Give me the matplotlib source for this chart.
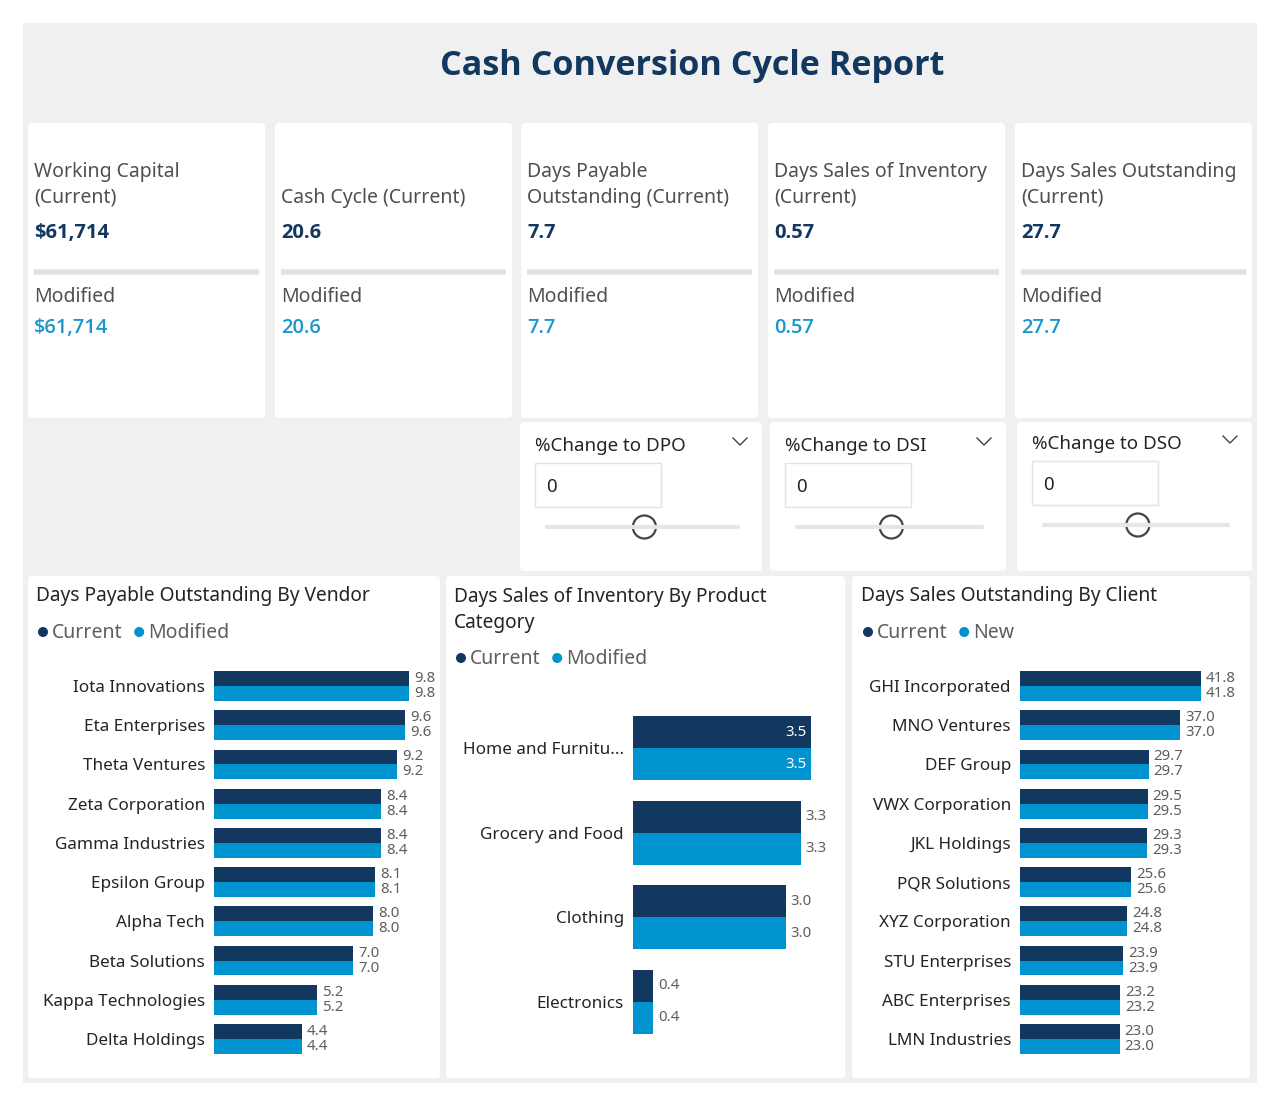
import matplotlib
matplotlib.use("Agg")
import matplotlib.pyplot as plt
from matplotlib.patches import FancyBboxPatch, Rectangle, Circle
import numpy as np

plt.rcParams['font.family'] = ['Noto Sans', 'DejaVu Sans']
BOLD = ['Open Sans', 'Noto Sans', 'DejaVu Sans']

# ---- data ----
card_titles = ["Working Capital\n(Current)", "Cash Cycle (Current)",
               "Days Payable\nOutstanding (Current)", "Days Sales of Inventory\n(Current)",
               "Days Sales Outstanding\n(Current)"]
card_current = ["$61,714", "20.6", "7.7", "0.57", "27.7"]
card_modified = ["$61,714", "20.6", "7.7", "0.57", "27.7"]

slicer_titles = ["%Change to DPO", "%Change to DSI", "%Change to DSO"]
slicer_values = [0, 0, 0]

vendors = ["Iota Innovations", "Eta Enterprises", "Theta Ventures", "Zeta Corporation",
           "Gamma Industries", "Epsilon Group", "Alpha Tech", "Beta Solutions",
           "Kappa Technologies", "Delta Holdings"]
dpo_current = [9.8, 9.6, 9.2, 8.4, 8.4, 8.1, 8.0, 7.0, 5.2, 4.4]
dpo_modified = [9.8, 9.6, 9.2, 8.4, 8.4, 8.1, 8.0, 7.0, 5.2, 4.4]

categories = ["Home and Furnitu...", "Grocery and Food", "Clothing", "Electronics"]
dsi_current = [3.5, 3.3, 3.0, 0.4]
dsi_modified = [3.5, 3.3, 3.0, 0.4]

clients = ["GHI Incorporated", "MNO Ventures", "DEF Group", "VWX Corporation",
           "JKL Holdings", "PQR Solutions", "XYZ Corporation", "STU Enterprises",
           "ABC Enterprises", "LMN Industries"]
dso_current = [41.8, 37.0, 29.7, 29.5, 29.3, 25.6, 24.8, 23.9, 23.2, 23.0]
dso_new = [41.8, 37.0, 29.7, 29.5, 29.3, 25.6, 24.8, 23.9, 23.2, 23.0]

NAVY = "#12385F"
BLUE = "#0093CF"
TXT = "#252423"
GREY = "#605E5C"

W, H = 1280, 1106
fig = plt.figure(figsize=(W / 100, H / 100), dpi=100)
fig.patch.set_facecolor("white")

bg = fig.add_axes([0, 0, 1, 1])
bg.set_xlim(0, W)
bg.set_ylim(H, 0)
bg.axis("off")


def box(x0, y0, x1, y1, fc="white", ec="none", lw=0, r=4):
    p = FancyBboxPatch((x0, y0), x1 - x0, y1 - y0, boxstyle=f"round,pad=0,rounding_size={r}",
                       fc=fc, ec=ec, lw=lw)
    bg.add_patch(p)


def px_axes(x0, y0, x1, y1):
    return fig.add_axes([x0 / W, 1 - y1 / H, (x1 - x0) / W, (y1 - y0) / H])


# page background
bg.add_patch(Rectangle((23, 23), 1234, 1060, fc="#F0F0F0", ec="none"))
bg.text(692, 66, "Cash Conversion Cycle Report", ha="center", va="center",
        fontsize=24.6, fontweight="bold", color=NAVY, family=BOLD)

# KPI cards
card_x = [(28, 265), (275, 512), (521, 758), (768, 1005), (1015, 1252)]
for (x0, x1), t, cur, mod in zip(card_x, card_titles, card_current, card_modified):
    box(x0, 123, x1, 418)
    tx = x0 + 6
    ty = 185 if "\n" in t else 198
    bg.text(tx, ty, t, ha="left", va="center", fontsize=14, color="#505050", linespacing=1.35)
    bg.text(tx, 233, cur, ha="left", va="center", fontsize=14.5, fontweight="bold", color=NAVY,
            family=BOLD)
    bg.plot([tx, x1 - 6], [272, 272], color="#E1E1E1", lw=4, solid_capstyle="butt")
    bg.text(tx, 297, "Modified", ha="left", va="center", fontsize=14, color="#505050")
    bg.text(tx, 328, mod, ha="left", va="center", fontsize=14.5, color="#1A96CC",
            family=BOLD, fontweight="semibold")

# slicers
slicer_x = [(520, 762), (770, 1006), (1017, 1252)]
slicer_dy = [0, 0, -2]
for (x0, x1), t, v, dy in zip(slicer_x, slicer_titles, slicer_values, slicer_dy):
    box(x0, 422, x1, 571)
    tx = x0 + 15
    bg.text(tx, 446 + dy, t, ha="left", va="center", fontsize=13.5, color=TXT)
    cx = x1 - 22
    bg.plot([cx - 7, cx, cx + 7], [438 + dy, 445 + dy, 438 + dy], color="#444444", lw=1)
    bg.add_patch(Rectangle((tx, 463 + dy), 126, 44, fc="white", ec="#E3E3E3", lw=1))
    bg.text(tx + 11, 487 + dy, str(v), ha="left", va="center", fontsize=13.5, color=TXT)
    sx0, sx1 = tx + 12, x1 - 24
    bg.plot([sx0, sx1], [527 + dy, 527 + dy], color="#E6E6E6", lw=3, solid_capstyle="round")
    bg.add_patch(Circle((sx0 + 0.51 * (sx1 - sx0), 527 + dy), 11.5, fc="white", ec="#444444", lw=1.6))

# chart panels
panels = [(28, 440), (446, 845), (852, 1250)]
for x0, x1 in panels:
    box(x0, 576, x1, 1078)


def legend(x, y, names):
    cx = x
    for name, col in zip(names, [NAVY, BLUE]):
        bg.add_patch(Circle((cx + 5, y), 5, fc=col, ec="none"))
        bg.text(cx + 14, y + 1, name, ha="left", va="center", fontsize=14, color=GREY)
        cx += 14 + len(name) * 10.6 + 8


bg.text(36, 596, "Days Payable Outstanding By Vendor", ha="left", va="center", fontsize=13.8, color=TXT)
legend(38, 632, ["Current", "Modified"])
bg.text(454, 610, "Days Sales of Inventory By Product\nCategory", ha="left", va="center",
        fontsize=13.8, color=TXT, linespacing=1.45)
legend(456, 658, ["Current", "Modified"])
bg.text(861, 596, "Days Sales Outstanding By Client", ha="left", va="center", fontsize=13.8, color=TXT)
legend(863, 632, ["Current", "New"])


def hbars(ax, labels, a, b, xmax, bh, lab_fs, inside_first=False):
    y = np.arange(len(labels))
    ax.barh(y - bh / 2, a, height=bh, color=NAVY)
    ax.barh(y + bh / 2, b, height=bh, color=BLUE)
    ax.set_xlim(0, xmax)
    ax.set_ylim(len(labels) - 0.5, -0.5)
    ax.set_yticks(y)
    ax.set_yticklabels(labels, fontsize=12.3, color=TXT)
    ax.tick_params(axis="y", length=0, pad=6.5)
    ax.set_xticks([])
    for s in ax.spines.values():
        s.set_visible(False)
    ax.patch.set_alpha(0)
    off = xmax * 0.022
    for i, (va, vb) in enumerate(zip(a, b)):
        if inside_first and i == 0:
            ax.text(va - off, i - bh / 2, f"{va:.1f}", ha="right", va="center", fontsize=lab_fs, color="white")
            ax.text(vb - off, i + bh / 2, f"{vb:.1f}", ha="right", va="center", fontsize=lab_fs, color="white")
        else:
            ax.text(va + off, i - bh / 2, f"{va:.1f}", ha="left", va="center", fontsize=lab_fs, color=GREY)
            ax.text(vb + off, i + bh / 2, f"{vb:.1f}", ha="left", va="center", fontsize=lab_fs, color=GREY)


ax1 = px_axes(214, 666.4, 434, 1058.6)
hbars(ax1, vendors, dpo_current, dpo_modified, 9.8 * 220 / 195, 0.38, 10.8)

ax2 = px_axes(633, 705.7, 840, 1044.3)
hbars(ax2, categories, dsi_current, dsi_modified, 3.5 * 207 / 178, 0.378, 10.8, inside_first=True)

ax3 = px_axes(1020, 666.4, 1245, 1058.6)
hbars(ax3, clients, dso_current, dso_new, 41.8 * 225 / 181, 0.38, 10.8)

fig.savefig("out.png", dpi=100, facecolor="white")
